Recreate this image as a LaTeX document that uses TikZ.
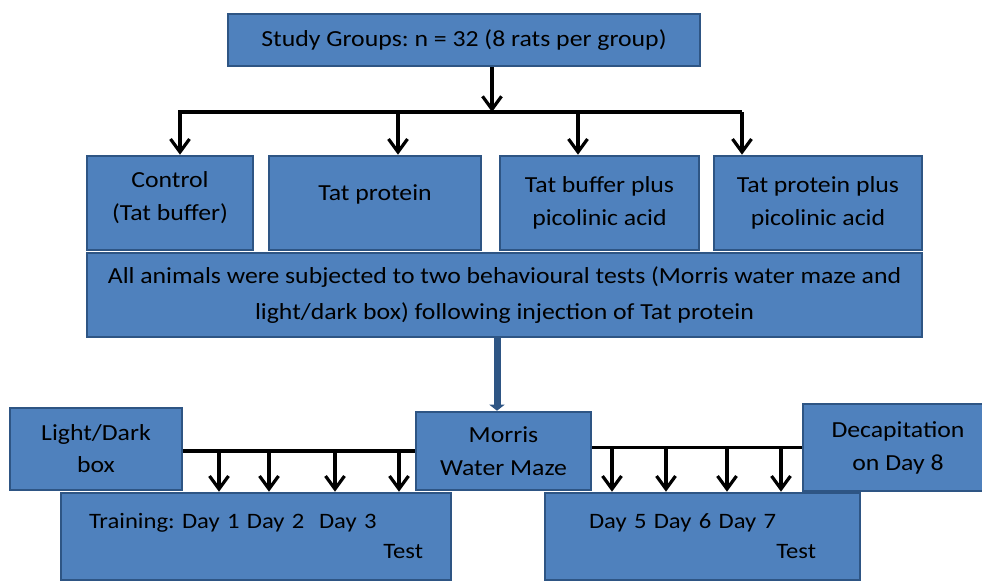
\documentclass[tikz,border=0pt]{standalone}
\usepackage{fontspec}
\setmainfont{Carlito}[FakeStretch=1.12]
\usetikzlibrary{arrows.meta,positioning}
\definecolor{boxfill}{HTML}{4F81BD}
\definecolor{boxline}{HTML}{2E5584}
\frenchspacing
\begin{document}
\begin{tikzpicture}[x=1pt,y=-1pt,>={Straight Barb[length=13pt,width=19pt,line width=3.2pt]},
    box/.style={draw=boxline, fill=boxfill, line width=2.6pt, inner sep=0pt, align=center, font=\fontsize{23}{33}\selectfont},
    bar/.style={line width=3.4pt},
    big arrow/.style={draw=boxline, line width=7pt, -{Triangle[length=6pt,width=15pt]}}]

            \useasboundingbox (0,0) rectangle (982,582);

            % groups
            \node[box, minimum width=472, minimum height=52] (study) at (464,40) {Study Groups: n = 32 (8 rats per group)};
            \node[box, minimum width=166, minimum height=94, text depth=14pt] (ctrl) at (170,203) {Control\\(Tat buffer)};
            \node[box, minimum width=212, minimum height=94, text depth=21pt] (tatp) at (375,203) {Tat protein};
            \node[box, minimum width=199, minimum height=94] (tatbpa) at (599.5,203) {Tat buffer plus\\picolinic acid};
            \node[box, minimum width=208, minimum height=94] (tatppa) at (818,203) {Tat protein plus\\picolinic acid};
            \node[box, minimum width=835, minimum height=84, font=\fontsize{23}{36}\selectfont] (all) at (504.5,295) {All animals were subjected to two behavioural tests (Morris water maze and\\light/dark box) following injection of Tat protein};

            % tests
            \node[box, minimum width=172, minimum height=82, font=\fontsize{23}{32}\selectfont] (ld) at (96,449) {Light/Dark\\box};
            \node[box, minimum width=175, minimum height=78, font=\fontsize{23}{33}\selectfont] (morris) at (503.5,451) {Morris\\Water Maze};
            \node[box, minimum width=190, minimum height=87, font=\fontsize{23}{33}\selectfont] (decap) at (898,447.5) {Decapitation\\on Day 8};
            \node[box, minimum width=390, minimum height=87, text width=334, align=left, font=\fontsize{22}{30}\selectfont] (train) at (256,536.5) {Training: Day 1 Day 2\ \ Day 3\\\hfill Test};
            \node[box, minimum width=315, minimum height=87, text width=227, align=left, font=\fontsize{22}{30}\selectfont] (days) at (702.5,536.5) {Day 5 Day 6 Day 7\\\hfill Test};

            % split to the groups
            \coordinate (split) at (492,112);
            \draw[bar,->] (split |- study.south) -- (split);
            \coordinate (b1) at (180,112);
            \coordinate (b2) at (398,112);
            \coordinate (b3) at (578,112);
            \coordinate (b4) at (742,112);
            \draw[bar,->] (b4 |- b1) -- (b1) -- (b1 |- ctrl.north);
            \draw[bar,->] (b2) -- (b2 |- tatp.north);
            \draw[bar,->] (b3) -- (b3 |- tatbpa.north);
            \draw[bar,->] (b4) -- (b4 |- tatppa.north);

            % to the water maze
            \coordinate (m) at (497,0);
            \draw[big arrow] (m |- all.south) -- (m |- morris.north);

            % training days
            \draw[bar] (ld.east |- morris.west) -- (morris.west);
            \foreach \x in {219,269,335,399}
                \draw[bar,->] (\x,451) -- (\x,0 |- train.north);
            \draw[bar] (morris.east |- decap.west) -- (decap.west);
            \foreach \x in {612,666,727,781}
                \draw[bar,->] (\x,447) -- (\x,0 |- days.north);
        \end{tikzpicture}
\end{document}
